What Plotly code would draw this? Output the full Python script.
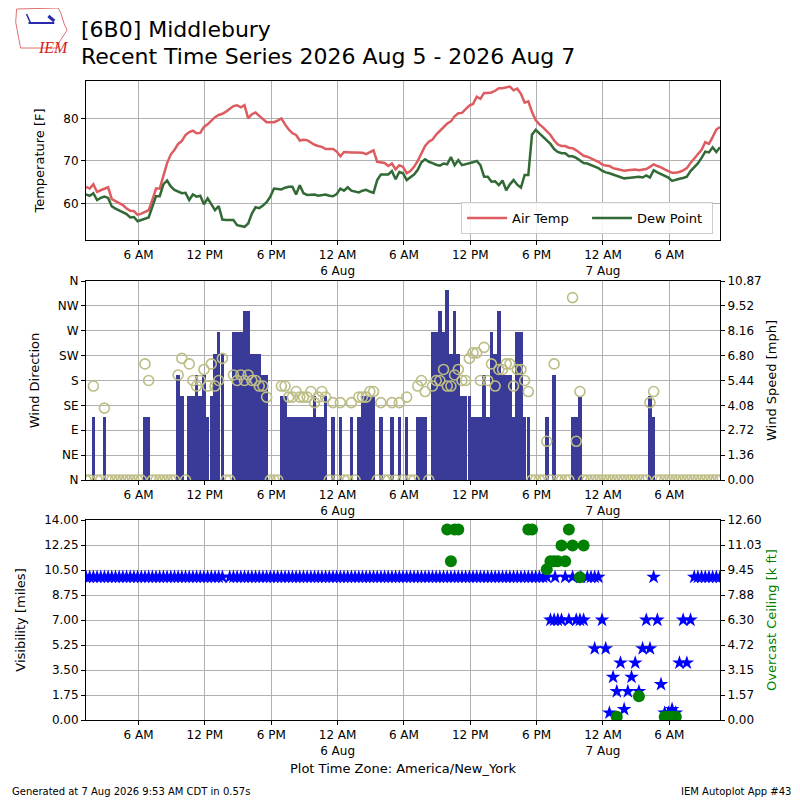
import pandas as pd
import plotly.graph_objects as go

# observation times, every 20 minutes (America/New_York)
times = pd.date_range("2026-08-05 01:15", periods=173, freq="20min")

# air temperature [F]
tmpf = [
    63.9, 63.5, 64.5, 62.7, 63.1, 63.5, 63.8, 61.0, 60.5, 60.1,
    59.6, 58.8, 58.3, 58.2, 57.3, 57.6, 58.0, 58.4, 60.8, 63.5,
    63.5, 66.5, 69.5, 71.5, 72.6, 74.0, 74.7, 76.1, 76.8, 77.1,
    76.5, 76.6, 78.0, 78.6, 79.5, 80.3, 80.8, 81.1, 81.6, 82.3,
    82.9, 83.1, 82.6, 83.1, 80.0, 81.0, 81.4, 80.6, 79.8, 79.1,
    79.1, 79.1, 79.5, 80.0, 78.6, 77.4, 76.5, 76.1, 74.8, 75.0,
    74.9, 74.3, 73.8, 73.5, 73.3, 72.8, 72.8, 72.8, 72.2, 71.1,
    72.1, 72.0, 72.0, 72.0, 72.0, 71.9, 71.6, 72.0, 72.5, 69.8,
    69.7, 69.5, 68.8, 69.4, 68.0, 69.0, 68.6, 67.1, 67.6, 68.6,
    70.0, 71.9, 73.5, 74.5, 75.0, 76.2, 77.0, 77.8, 78.8, 79.3,
    80.5, 81.2, 81.3, 82.2, 83.0, 83.4, 85.1, 84.6, 86.0, 86.0,
    86.1, 86.5, 87.1, 87.1, 87.3, 87.5, 86.6, 87.0, 85.8, 83.7,
    84.0, 81.5, 79.6, 78.6, 77.9, 77.0, 76.1, 74.8, 73.9, 73.5,
    73.5, 73.1, 73.0, 72.5, 71.8, 71.2, 71.0, 70.6, 70.2, 69.8,
    69.2, 68.9, 68.8, 68.3, 68.1, 67.9, 67.7, 67.8, 67.9, 68.0,
    67.8, 68.0, 68.1, 68.6, 69.2, 68.8, 68.5, 68.0, 67.6, 67.2,
    67.2, 67.4, 67.8, 68.3, 69.5, 70.5, 71.4, 72.6, 74.4, 74.0,
    75.6, 77.4, 78.0]

# dew point [F]
dwpf = [
    62.1, 61.8, 62.4, 60.8, 61.3, 61.6, 61.3, 59.3, 58.8, 58.4,
    58.0, 57.5, 56.7, 56.8, 55.8, 56.1, 56.5, 56.7, 59.2, 61.7,
    61.7, 64.5, 65.4, 64.0, 63.2, 62.7, 62.4, 62.5, 60.8, 62.1,
    61.6, 61.8, 59.8, 61.2, 59.8, 58.4, 59.4, 56.2, 56.1, 56.1,
    56.1, 54.9, 54.7, 54.5, 55.3, 57.6, 59.1, 58.9, 59.5, 60.3,
    61.6, 63.5, 63.4, 63.3, 63.7, 63.9, 63.9, 62.1, 64.3, 62.4,
    62.0, 62.0, 62.1, 61.8, 61.9, 62.1, 61.8, 61.7, 62.2, 63.5,
    63.0, 63.8, 63.0, 62.8, 62.6, 63.0, 63.2, 62.8, 62.5, 65.5,
    66.8, 66.8, 66.8, 67.6, 65.7, 67.4, 67.1, 65.5, 66.1, 66.8,
    67.9, 69.7, 70.4, 69.8, 69.5, 69.1, 68.9, 69.4, 69.2, 70.9,
    69.0, 70.2, 69.0, 69.2, 69.4, 69.7, 70.0, 69.0, 66.3, 66.3,
    65.1, 65.2, 64.3, 65.4, 63.1, 64.5, 65.5, 64.4, 63.7, 66.7,
    66.7, 76.2, 77.3, 76.5, 75.8, 75.0, 74.0, 72.8, 72.1, 71.8,
    71.8, 71.1, 71.1, 70.7, 70.1, 69.5, 69.4, 69.0, 68.6, 68.3,
    67.7, 67.3, 67.1, 66.8, 66.5, 66.1, 65.9, 66.0, 66.1, 66.2,
    66.3, 66.1, 66.6, 66.1, 67.8, 67.3, 66.9, 66.6, 66.1, 65.3,
    65.6, 65.8, 66.0, 66.3, 67.6, 68.5, 69.4, 70.7, 72.2, 72.0,
    73.2, 72.1, 73.2]

# wind speed [mph]
sped = [
    0, 0, 3.45, 0, 0, 3.45, 0, 0, 0, 0,
    0, 0, 0, 0, 0, 0, 3.45, 3.45, 0, 0,
    0, 0, 0, 0, 0, 5.75, 4.6, 0, 4.6, 4.6,
    5.75, 4.6, 5.75, 3.45, 4.6, 6.9, 8.06, 6.9, 0, 0,
    8.06, 8.06, 8.06, 9.21, 9.21, 6.9, 6.9, 6.9, 5.75, 5.75,
    0, 0, 0, 4.6, 4.6, 3.45, 3.45, 3.45, 3.45, 3.45,
    3.45, 3.45, 4.6, 3.45, 3.45, 4.6, 0, 3.45, 0, 3.45,
    0, 0, 3.45, 0, 3.45, 4.6, 4.6, 4.6, 4.6, 0,
    3.45, 0, 0, 3.45, 0, 3.45, 0, 3.45, 0, 0,
    3.45, 3.45, 3.45, 0, 8.06, 8.06, 9.21, 8.06, 10.36, 6.9,
    9.21, 6.9, 4.6, 4.6, 4.6, 3.45, 3.45, 3.45, 5.75, 3.45,
    8.06, 6.9, 9.21, 5.75, 5.75, 5.75, 3.45, 8.06, 8.06, 3.45,
    3.45, 0, 0, 0, 0, 3.45, 0, 5.75, 0, 0,
    0, 0, 3.45, 3.45, 4.6, 0, 0, 0, 0, 0,
    0, 0, 0, 0, 0, 0, 0, 0, 0, 0,
    0, 0, 0, 4.6, 3.45, 0, 0, 0, 0, 0,
    0, 0, 0, 0, 0, 0, 0, 0, 0, 0,
    0, 0, 0]

# wind direction [deg]
drct = [
    0, 0, 170, 0, 0, 130, 0, 0, 0, 0,
    0, 0, 0, 0, 0, 0, 210, 180, 0, 0,
    0, 0, 0, 0, 0, 190, 220, 0, 210, 180,
    170, 180, 200, 170, 210, 170, 180, 220, 0, 0,
    190, 180, 190, 180, 190, 180, 180, 170, 170, 150,
    0, 0, 0, 170, 170, 150, 150, 160, 150, 150,
    150, 160, 140, 150, 160, 150, 0, 140, 0, 140,
    0, 0, 140, 0, 150, 150, 150, 160, 160, 0,
    140, 0, 0, 140, 0, 140, 0, 150, 0, 0,
    170, 180, 160, 0, 170, 180, 180, 200, 170, 170,
    190, 200, 180, 180, 220, 230, 230, 180, 240, 180,
    210, 170, 200, 200, 210, 210, 170, 200, 200, 180,
    160, 0, 0, 0, 0, 70, 0, 210, 0, 0,
    0, 0, 330, 70, 160, 0, 0, 0, 0, 0,
    0, 0, 0, 0, 0, 0, 0, 0, 0, 0,
    0, 0, 0, 140, 160, 0, 0, 0, 0, 0,
    0, 0, 0, 0, 0, 0, 0, 0, 0, 0,
    0, 0, 0]

# visibility [miles]
vis = [
    10, 10, 10, 10, 10, 10, 10, 10, 10, 10,
    10, 10, 10, 10, 10, 10, 10, 10, 10, 10,
    10, 10, 10, 10, 10, 10, 10, 10, 10, 10,
    10, 10, 10, 10, 10, 10, 10, 10, None, 10,
    10, 10, 10, 10, 10, 10, 10, 10, 10, 10,
    10, 10, 10, 10, 10, 10, 10, 10, 10, 10,
    10, 10, 10, 10, 10, 10, 10, 10, 10, 10,
    10, 10, 10, 10, 10, 10, 10, 10, 10, 10,
    10, 10, 10, 10, 10, 10, 10, 10, 10, 10,
    10, 10, 10, 10, 10, 10, 10, 10, 10, 10,
    10, 10, 10, 10, 10, 10, 10, 10, 10, 10,
    10, 10, 10, 10, 10, 10, 10, 10, 10, 10,
    10, 10, 10, 10, 10, 10, 7, 7, 7, 7,
    10, 7, 10, 7, 7, 7, 10, 10, 5, 10,
    7, 5, 0.5, 3, 2, 4, 0.75, 2, 3, 4,
    2, 5, 7, 5, 10, 7, 2.5, 0.5, 0.5, 0.75,
    0.5, 4, 7, 4, 7, 10, 10, 10, 10, 10,
    10, 10, 10]

# special reports between the routine ones
spec_times = ["2026-08-06 19:40", "2026-08-06 22:00", "2026-08-06 23:15"]
spec_vis = [10, 10, 10]

# overcast ceiling [k ft]
ceil_times = ["2026-08-06 09:55", "2026-08-06 10:15", "2026-08-06 10:35", "2026-08-06 10:55",
              "2026-08-06 17:15", "2026-08-06 17:35", "2026-08-06 18:55", "2026-08-06 19:15",
              "2026-08-06 19:35", "2026-08-06 19:55", "2026-08-06 20:15", "2026-08-06 20:35",
              "2026-08-06 20:55", "2026-08-06 21:15", "2026-08-06 21:55", "2026-08-06 22:15",
              "2026-08-07 01:15", "2026-08-07 03:15", "2026-08-07 05:35", "2026-08-07 05:55",
              "2026-08-07 06:15", "2026-08-07 06:35"]
ceil_kft = [12, 10, 12, 12, 12, 12, 9.5, 10, 10, 10, 11, 10, 12, 11, 9, 11,
            0.2, 1.5, 0.2, 0.2, 0.2, 0.2]

xtick_vals = ["2026-08-05 06:00", "2026-08-05 12:00", "2026-08-05 18:00", "2026-08-06 00:00",
              "2026-08-06 06:00", "2026-08-06 12:00", "2026-08-06 18:00", "2026-08-07 00:00",
              "2026-08-07 06:00"]
xtick_text = ["6 AM", "12 PM", "6 PM", "12 AM<br>6 Aug", "6 AM", "12 PM", "6 PM",
              "12 AM<br>7 Aug", "6 AM"]

dir_vals = [0, 45, 90, 135, 180, 225, 270, 315, 360]
dir_text = ["N", "NE", "E", "SE", "S", "SW", "W", "NW", "N"]
spd_vals = [0, 1.36, 2.72, 4.08, 5.44, 6.80, 8.16, 9.52, 10.87]
vis_vals = [0, 1.75, 3.5, 5.25, 7, 8.75, 10.5, 12.25, 14]
ceil_vals = [0, 1.575, 3.15, 4.725, 6.3, 7.875, 9.45, 11.025, 12.6]

FONT = "DejaVu Sans"
GRID = "#b0b0b0"

# the page puts the figure 8px in from the corner, so the figure is 792 wide/high
# px/py map reference-picture pixels to paper coordinates
def px(x):
    return (x - 80) / 640.0

def py(y):
    return (720 - y) / 639.0

fig = go.Figure()

fig.add_trace(go.Scatter(x=times, y=tmpf, mode="lines", name="Air Temp",
                         line=dict(color="#dd5c60", width=2.5), xaxis="x", yaxis="y"))
fig.add_trace(go.Scatter(x=times, y=dwpf, mode="lines", name="Dew Point",
                         line=dict(color="#326a35", width=2.5), xaxis="x", yaxis="y"))

fig.add_trace(go.Bar(x=times, y=sped, width=19.5 * 60 * 1000,
                     marker=dict(color="#3a3a98", line=dict(width=0)),
                     showlegend=False, xaxis="x2", yaxis="y2"))
fig.add_trace(go.Scatter(x=times, y=drct, mode="markers", showlegend=False,
                         marker=dict(symbol="circle-open", size=10, color="#bdbd85", line=dict(width=1.6)),
                         xaxis="x2", yaxis="y3"))

fig.add_trace(go.Scatter(x=times, y=vis, mode="markers", showlegend=False,
                         marker=dict(symbol="star", size=11, color="blue", line=dict(width=0)),
                         xaxis="x3", yaxis="y4"))
fig.add_trace(go.Scatter(x=pd.to_datetime(spec_times), y=spec_vis, mode="markers", showlegend=False,
                         marker=dict(symbol="star", size=11, color="blue", line=dict(width=0)),
                         xaxis="x3", yaxis="y4"))
fig.add_trace(go.Scatter(x=pd.to_datetime(ceil_times), y=ceil_kft, mode="markers", showlegend=False,
                         marker=dict(symbol="circle", size=12, color="green", line=dict(width=0)),
                         xaxis="x3", yaxis="y5"))

xrange = [times[0], times[-1]]
xcommon = dict(range=xrange, type="date", tickvals=xtick_vals, ticktext=xtick_text,
               showgrid=True, gridcolor=GRID, gridwidth=1, showline=True, linecolor="black",
               linewidth=1, mirror=True, ticks="outside", ticklen=4, tickcolor="black",
               tickfont=dict(size=12, color="black"), zeroline=False)
ycommon = dict(showline=True, linecolor="black", linewidth=1, ticks="outside", ticklen=4,
               tickcolor="black", tickfont=dict(size=12, color="black"), zeroline=False,
               title_font=dict(size=13, color="black"))

top_dom = [py(240), 1.0]
mid_dom = [py(480), py(281)]
bot_dom = [0.0, py(520)]

fig.update_layout(
    width=792, height=792,
    margin=dict(l=72, r=80, t=73, b=80),
    paper_bgcolor="white", plot_bgcolor="white",
    font=dict(family=FONT, color="black"),
    bargap=0,
    xaxis=dict(xcommon, anchor="y", domain=[0, 1]),
    xaxis2=dict(xcommon, anchor="y2", domain=[0, 1]),
    xaxis3=dict(xcommon, anchor="y4", domain=[0, 1],
                title=dict(text="Plot Time Zone: America/New_York", font=dict(size=13), standoff=6)),
    yaxis=dict(ycommon, domain=top_dom, anchor="x", range=[51.4, 88.8], tickvals=[60, 70, 80],
               showgrid=True, gridcolor=GRID, mirror=True, title=dict(text="Temperature [F]")),
    yaxis2=dict(ycommon, domain=mid_dom, anchor="x2", side="right", range=[0, 10.87],
                tickvals=spd_vals, ticktext=["%.2f" % v for v in spd_vals], showgrid=False,
                title=dict(text="Wind Speed [mph]", standoff=6)),
    yaxis3=dict(ycommon, anchor="x2", overlaying="y2", side="left", range=[0, 360],
                tickvals=dir_vals, ticktext=dir_text, showgrid=True, gridcolor=GRID,
                title=dict(text="Wind Direction")),
    yaxis4=dict(ycommon, domain=bot_dom, anchor="x3", side="left", range=[0, 14],
                tickvals=vis_vals, ticktext=["%.2f" % v for v in vis_vals], showgrid=True,
                gridcolor=GRID, title=dict(text="Visibility [miles]")),
    yaxis5=dict(ycommon, anchor="x3", overlaying="y4", side="right", range=[0, 12.6],
                tickvals=ceil_vals, ticktext=["%.2f" % v for v in ceil_vals], showgrid=False,
                title=dict(text="Overcast Ceiling [k ft]", standoff=6,
                           font=dict(size=13, color="green"))),
    legend=dict(orientation="h", x=px(713), y=py(234), xanchor="right", yanchor="bottom",
                bgcolor="rgba(255,255,255,0.85)", bordercolor="#cccccc", borderwidth=1,
                font=dict(size=13), itemwidth=40, entrywidth=70),
    showlegend=True,
)

fig.add_annotation(text="[6B0] Middlebury", x=px(73), y=py(30), xref="paper", yref="paper",
                   xanchor="left", yanchor="middle", showarrow=False, font=dict(size=22))
fig.add_annotation(text="Recent Time Series 2026 Aug 5 - 2026 Aug 7", x=px(73), y=py(56),
                   xref="paper", yref="paper", xanchor="left", yanchor="middle", showarrow=False,
                   font=dict(size=22))
fig.add_annotation(text="Generated at 7 Aug 2026 9:53 AM CDT in 0.57s", x=px(3), y=py(791),
                   xref="paper", yref="paper", xanchor="left", yanchor="middle", showarrow=False,
                   font=dict(size=10))
fig.add_annotation(text="IEM Autoplot App #43", x=px(794), y=py(791), xref="paper", yref="paper",
                   xanchor="right", yanchor="middle", showarrow=False, font=dict(size=10))

# small IEM logo in the corner
iowa = [(10, 9), (52, 8), (55, 14), (58, 24), (61, 30), (57, 36), (53, 42), (51, 48),
        (14, 48), (12, 38), (9, 22)]
path = "M " + " L ".join("%.4f,%.4f" % (px(a), py(b)) for a, b in iowa) + " Z"
fig.add_shape(type="path", path=path, xref="paper", yref="paper",
              line=dict(color="#e07070", width=1))
fig.add_shape(type="line", x0=px(22), y0=py(23), x1=px(48), y1=py(23), xref="paper", yref="paper",
              line=dict(color="#2a2ab0", width=2))
fig.add_shape(type="line", x0=px(20), y0=py(14), x1=px(24), y1=py(23), xref="paper", yref="paper",
              line=dict(color="#2a2ab0", width=1.5))
fig.add_shape(type="line", x0=px(42), y0=py(16), x1=px(48), y1=py(21), xref="paper", yref="paper",
              line=dict(color="#2a2ab0", width=3))
fig.add_annotation(text="<i>IEM</i>", x=px(30), y=py(37), xref="paper", yref="paper",
                   showarrow=False, font=dict(family="Liberation Serif", size=16, color="#d42020"))

fig.write_html("out.html")
